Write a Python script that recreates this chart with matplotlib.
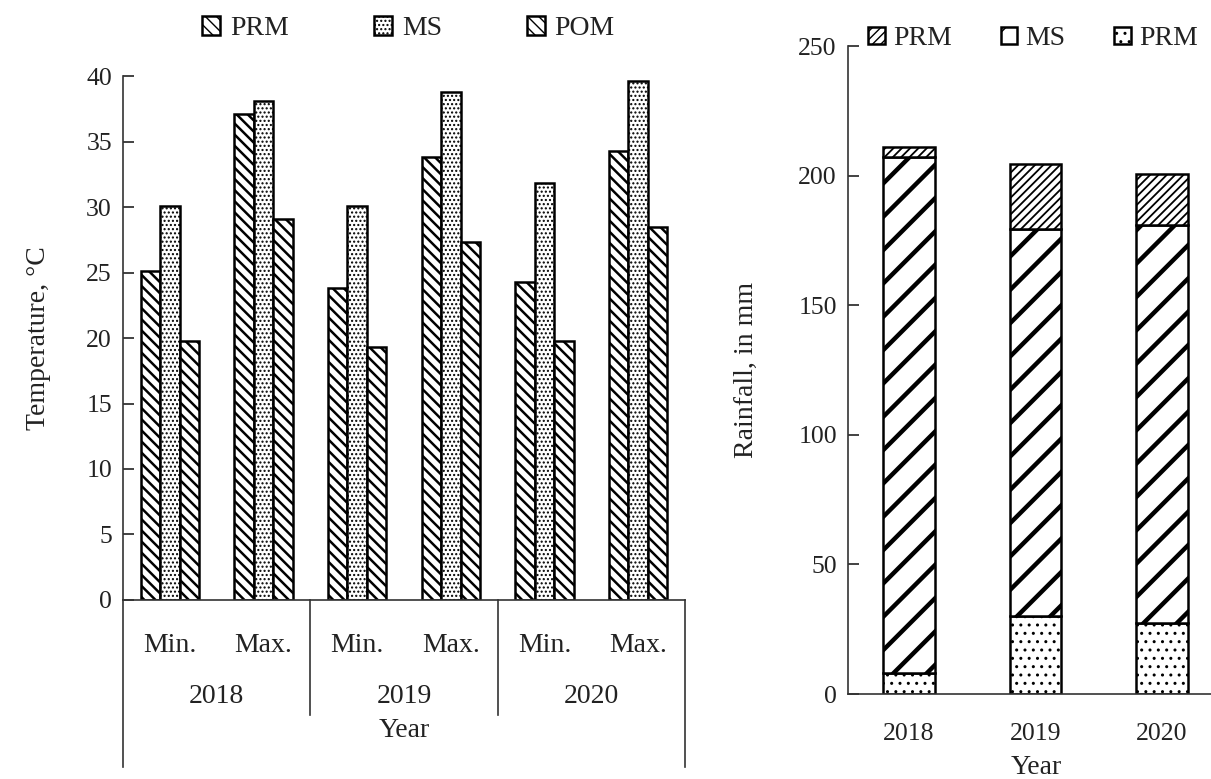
import matplotlib
matplotlib.use('Agg')
import matplotlib.pyplot as plt
import numpy as np

plt.rcParams['font.family'] = ['Liberation Serif', 'DejaVu Serif']
plt.rcParams['font.size'] = 20
plt.rcParams['hatch.color'] = 'black'
TICK_FS = 18.5
TXT = '#222222'
AXC = '#333333'

# temperature (left panel)
temp_cats = ['Min.', 'Max.', 'Min.', 'Max.', 'Min.', 'Max.']
years = ['2018', '2019', '2020']
prm_temp = [25.1, 37.1, 23.8, 33.8, 24.3, 34.3]
ms_temp = [30.1, 38.1, 30.1, 38.8, 31.8, 39.6]
pom_temp = [19.8, 29.1, 19.3, 27.3, 19.8, 28.5]

# rainfall (right panel), stacked from the bottom
rain_bottom = [8.0, 30.0, 27.5]
rain_ms = [199.0, 149.5, 153.5]
rain_top = [4.0, 25.0, 19.5]

fig = plt.figure(figsize=(12.11, 7.79), dpi=100)

# ---- left: temperature ----
ax = fig.add_axes([0.1016, 0.2298, 0.464, 0.6726])
x = np.arange(len(temp_cats))
w = 0.208
with plt.rc_context({'hatch.linewidth': 1.8}):
    b1 = ax.bar(x - w, prm_temp, w, color='white', edgecolor='black',
                linewidth=1.8, hatch='\\\\\\', label='PRM')
with plt.rc_context({'hatch.linewidth': 1.0}):
    b2 = ax.bar(x, ms_temp, w, color='white', edgecolor='black',
                linewidth=1.8, hatch='....', label='MS')
with plt.rc_context({'hatch.linewidth': 1.8}):
    b3 = ax.bar(x + w, pom_temp, w, color='white', edgecolor='black',
                linewidth=1.8, hatch='\\\\\\', label='POM')

ax.set_xlim(-0.5, 5.5)
ax.set_ylim(0, 40)
ax.set_yticks(range(0, 41, 5))
ax.set_xticks([])
for s in ['top', 'right']:
    ax.spines[s].set_visible(False)
for s in ['left', 'bottom']:
    ax.spines[s].set_color(AXC)
    ax.spines[s].set_linewidth(1.2)
ax.tick_params(axis='y', direction='in', length=8, width=1.2, pad=8,
               colors=TXT, labelsize=TICK_FS)
ax.set_ylabel('Temperature, °C', color=TXT)
ax.yaxis.set_label_coords(-0.128, 0.5)

# two-level category labels under the axis
tr = ax.get_xaxis_transform()
for i, c in enumerate(temp_cats):
    ax.text(i, -0.086, c, transform=tr, ha='center', va='center', color=TXT)
for j, y in enumerate(years):
    ax.text(2 * j + 0.5, -0.185, y, transform=tr, ha='center', va='center', color=TXT)
ax.text(2.5, -0.25, 'Year', transform=tr, ha='center', va='center', color=TXT)
for xs in [1.5, 3.5]:
    ax.plot([xs, xs], [0, -0.219], transform=tr, color=AXC, lw=1.2, clip_on=False)
for xs in [-0.5, 5.5]:
    ax.plot([xs, xs], [0, -0.319], transform=tr, color=AXC, lw=1.2, clip_on=False)

ax.legend(loc='center', bbox_to_anchor=(0.508, 1.09), ncol=3, frameon=False,
          handlelength=0.65, handleheight=0.65, columnspacing=3.05, handletextpad=0.36,
          borderaxespad=0, labelcolor=TXT)

# ---- right: rainfall ----
ax2 = fig.add_axes([0.7002, 0.1091, 0.2998, 0.8318])
xr = np.arange(len(years))
bw = 0.41
with plt.rc_context({'hatch.linewidth': 1.0}):
    r1 = ax2.bar(xr, rain_bottom, bw, color='white', edgecolor='black',
                 linewidth=1.8, hatch='..', label='PRM')
with plt.rc_context({'hatch.linewidth': 3.2}):
    r2 = ax2.bar(xr, rain_ms, bw, bottom=rain_bottom, color='white', edgecolor='black',
                 linewidth=1.8, hatch='/', label='MS')
top_base = np.array(rain_bottom) + np.array(rain_ms)
with plt.rc_context({'hatch.linewidth': 1.3}):
    r3 = ax2.bar(xr, rain_top, bw, bottom=top_base, color='white', edgecolor='black',
                 linewidth=1.8, hatch='////', label='PRM')

ax2.set_xlim(-0.482, 2.387)
ax2.set_ylim(0, 250)
ax2.set_yticks(range(0, 251, 50))
ax2.set_xticks(xr)
ax2.set_xticklabels(years)
for s in ['top', 'right']:
    ax2.spines[s].set_visible(False)
for s in ['left', 'bottom']:
    ax2.spines[s].set_color(AXC)
    ax2.spines[s].set_linewidth(1.2)
ax2.tick_params(axis='y', direction='in', length=8, width=1.2, pad=8,
                colors=TXT, labelsize=TICK_FS)
ax2.tick_params(axis='x', length=0, pad=21, colors=TXT, labelsize=TICK_FS)
ax2.set_ylabel('Rainfall, in mm', color=TXT)
ax2.yaxis.set_label_coords(-0.245, 0.5)
ax2.set_xlabel('Year', color=TXT)
ax2.xaxis.set_label_coords(0.52, -0.094)

ax2.legend(handles=[r3, r2, r1], labels=['PRM', 'MS', 'PRM'],
           loc='center', bbox_to_anchor=(0.51, 1.011), ncol=3, frameon=False,
           handlelength=0.6, handleheight=0.6, columnspacing=1.75, handletextpad=0.3,
           borderaxespad=0, labelcolor=TXT)

fig.savefig('out.png', dpi=100)
